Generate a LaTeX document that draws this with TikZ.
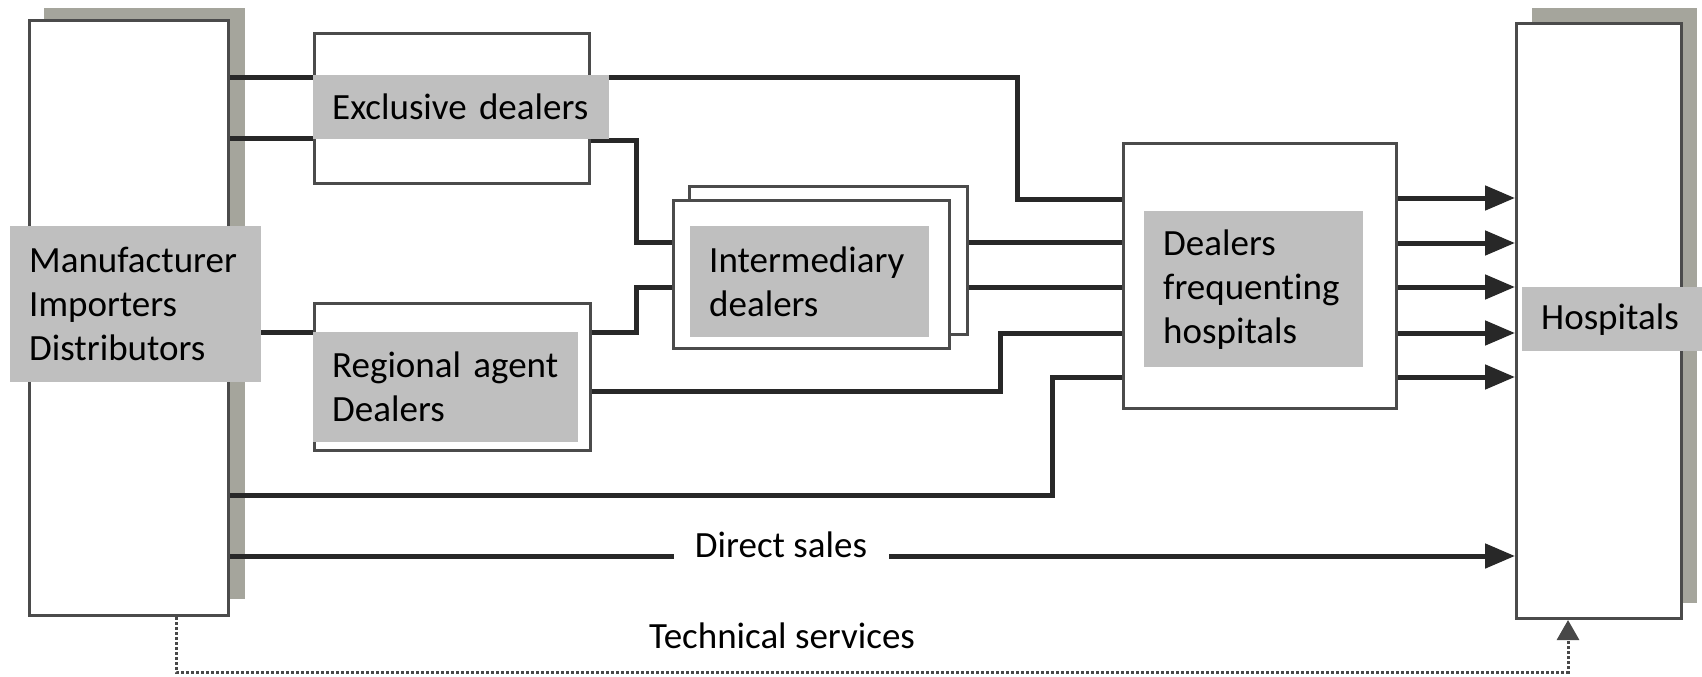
\documentclass[tikz,border=0pt]{standalone}
\usepackage{fontspec}
\setmainfont{Carlito}[Ligatures=NoCommon]
\usetikzlibrary{arrows.meta}

\definecolor{ink}{RGB}{40,40,40}
\definecolor{edgegray}{RGB}{75,75,75}
\definecolor{shade}{RGB}{165,165,156}
\definecolor{taggray}{RGB}{191,191,191}

\begin{document}
\begin{tikzpicture}[x=1pt,y=-1pt,
  shadowbox/.style={fill=shade, draw=none, inner sep=0pt, anchor=north west},
  frame/.style={draw=edgegray, line width=3pt, fill=white, inner sep=0pt, anchor=north west},
  tag/.style={fill=taggray, inner xsep=19pt, inner ysep=0pt, align=left,
              font=\fontsize{37}{44}\selectfont, anchor=north west},
  note/.style={font=\fontsize{37}{44}\selectfont},
  flow/.style={draw=ink, line width=5pt},
  tip/.style={-{Triangle[length=30pt,width=24pt]}},
  service/.style={draw=ink!85, line width=3pt, dash pattern=on 3pt off 2pt,
                  -{Triangle[length=20pt,width=22pt]}}
]
\useasboundingbox (0,0) rectangle (1702,677);

% drop shadows of the two end columns
\node[shadowbox, minimum width=201pt, minimum height=591pt] (srcsh) at (44,8) {};
\node[shadowbox, minimum width=165pt, minimum height=595pt] (dstsh) at (1532,8) {};

% end columns
\node[frame, minimum width=199pt, minimum height=595pt] (src) at (28,19) {};
\node[frame, minimum width=165pt, minimum height=595pt] (dst) at (1515,22) {};

% connectors (drawn under the boxes)
\draw[flow] (src.east |- 0,77) -- (313,77);
\draw[flow] (src.east |- 0,138) -- (313,138);
\draw[flow] (src.east |- 0,332) -- (313,332);
\draw[flow] (588,77) -- (1017,77) -- (1017,199) -- (1122,199);
\draw[flow] (588,140) -- (636,140) -- (636,242) -- (672,242);
\draw[flow] (589,332) -- (636,332) -- (636,287) -- (672,287);
\draw[flow] (589,391) -- (1000,391) -- (1000,333) -- (1122,333);
\draw[flow] (src.east |- 0,495) -- (1052,495) -- (1052,377) -- (1122,377);
\draw[flow] (966,242) -- (1122,242);
\draw[flow] (966,287) -- (1122,287);

% middle boxes
\node[frame, minimum width=275pt, minimum height=150pt] (excl) at (313,32) {};
\node[frame, minimum width=276pt, minimum height=147pt] (reg) at (313,302) {};
\node[frame, minimum width=278pt, minimum height=148pt] (interb) at (688,185) {};
\node[frame, minimum width=276pt, minimum height=148pt] (inter) at (672,199) {};
\node[frame, minimum width=273pt, minimum height=265pt] (dfh) at (1122,142) {};

% deliveries into the hospitals
\foreach \yy in {198,243,287,333,377}
  \draw[flow, tip] (dfh.east |- 0,\yy) -- (dst.west |- 0,\yy);
\draw[flow, tip] (src.east |- 0,556) -- (dst.west |- 0,556);

% technical service loop
\draw[service] (src.south -| 176,0) -- (176,672) -- (1568,672) -- (dst.south -| 1568,0);

% labels
\node[tag, text width=213pt, minimum height=156pt] (srclab) at (10,226)
  {Manufacturer\\Importers\\Distributors};
\node[tag, text width=258pt, minimum height=64pt] (excllab) at (313,75)
  {Exclusive dealers};
\node[tag, text width=227pt, minimum height=110pt] (reglab) at (313,332)
  {Regional agent\\Dealers};
\node[tag, text width=201pt, minimum height=111pt] (interlab) at (690,226)
  {Intermediary\\dealers};
\node[tag, text width=181pt, minimum height=156pt] (dfhlab) at (1144,211)
  {Dealers\\frequenting\\hospitals};
\node[tag, text width=142pt, minimum height=64pt] (dstlab) at (1522,287)
  {Hospitals};

\node[note, fill=white, anchor=base, minimum width=215pt, inner ysep=10pt] (direct) at (781,557)
  {Direct sales};
\node[note, anchor=base] (tech) at (782,648) {Technical services};
\end{tikzpicture}
\end{document}
